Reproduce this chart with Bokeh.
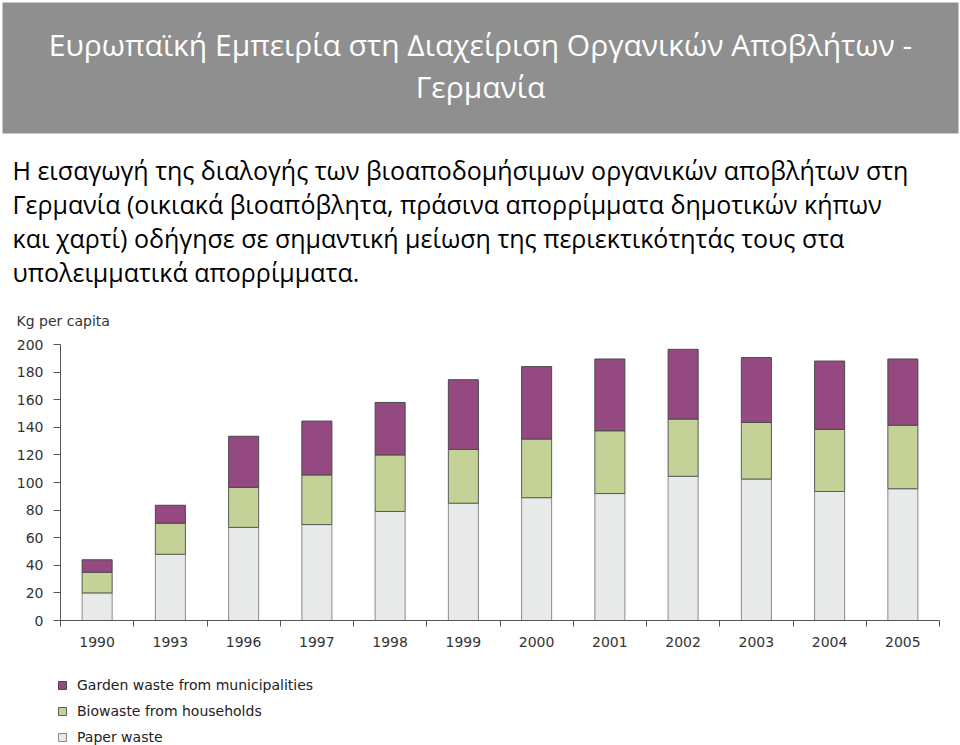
from bokeh.plotting import figure
from bokeh.models import ColumnDataSource, Range1d, FixedTicker, Legend, LegendItem, Label
from bokeh.embed import file_html
from bokeh.resources import INLINE

# ---- texts ----
title_lines = ["Ευρωπαϊκή Εμπειρία στη Διαχείριση Οργανικών Αποβλήτων -", "Γερμανία"]
text_lines = [
    "Η εισαγωγή της διαλογής των βιοαποδομήσιμων οργανικών αποβλήτων στη",
    "Γερμανία (οικιακά βιοαπόβλητα, πράσινα απορρίμματα δημοτικών κήπων",
    "και χαρτί) οδήγησε σε σημαντική μείωση της περιεκτικότητάς τους στα",
    "υπολειμματικά απορρίμματα.",
]
y_axis_title = "Kg per capita"

# ---- data ----
years = ["1990", "1993", "1996", "1997", "1998", "1999", "2000", "2001", "2002", "2003", "2004", "2005"]
paper = [20, 48, 67.5, 69.5, 79, 85, 89, 92, 104.5, 102.5, 93.5, 95.5]
bio = [15, 22.5, 29, 36, 41, 39, 42.5, 45.5, 41.5, 41, 45, 46]
garden = [9, 13, 37, 39, 38, 50.5, 52.5, 52, 50.5, 47, 49.5, 48]
series_names = ["Paper waste", "Biowaste from households", "Garden waste from municipalities"]
series_colors = ["#e8e9e9", "#c4d197", "#944a80"]
series_lines = ["#8a8a8a", "#5a5a5a", "#4a4a4a"]
y_ticks = [0, 20, 40, 60, 80, 100, 120, 140, 160, 180, 200]

W = 960
FONT = "DejaVu Sans"

# ---- banner ----
BH = 134
banner = figure(width=W, height=BH, x_range=Range1d(0, W - 4), y_range=Range1d(BH - 3, 0),
                output_backend="svg", toolbar_location=None,
                min_border_left=2, min_border_right=2, min_border_top=2, min_border_bottom=1,
                x_axis_location=None, y_axis_location=None,
                background_fill_color="#8f8f8f", border_fill_color="white",
                outline_line_color=None)
banner.grid.visible = False
for ty, t in zip([42, 84], title_lines):
    banner.add_layout(Label(x=(W - 4) / 2, y=ty, text=t, text_align="center", text_baseline="alphabetic",
                            text_color="white", text_font="Open Sans", text_font_size="30px"))

# ---- paragraph ----
PH = 160
para = figure(width=W, height=PH, x_range=Range1d(0, W), y_range=Range1d(PH, 0),
              output_backend="svg", toolbar_location=None, min_border=0,
              x_axis_location=None, y_axis_location=None, outline_line_color=None)
para.grid.visible = False
for ty, t in zip([35, 69, 103, 137], text_lines):
    para.add_layout(Label(x=12, y=ty, text=t, text_align="left", text_baseline="alphabetic",
                          text_color="black", text_font="Open Sans", text_font_size="25px"))

# ---- chart ----
CH = 660 - BH - PH
p = figure(width=W, height=CH, x_range=Range1d(0, len(years)), y_range=Range1d(0, 200),
           output_backend="svg", toolbar_location=None,
           min_border_left=60, min_border_right=21, min_border_top=50, min_border_bottom=40,
           outline_line_color=None)
p.grid.visible = False

src = ColumnDataSource(dict(x=[i + 0.5 for i in range(len(years))], paper=paper, bio=bio, garden=garden))
rs = p.vbar_stack(["paper", "bio", "garden"], x="x", width=0.41, source=src,
                  fill_color=series_colors, line_color=series_lines, line_width=1)

xa = p.xaxis[0]
xa.ticker = FixedTicker(ticks=[i + 0.5 for i in range(len(years))], minor_ticks=list(range(len(years) + 1)))
xa.major_label_overrides = {i + 0.5: y for i, y in enumerate(years)}
xa.major_tick_line_color = None
xa.major_tick_out = 6
xa.major_tick_in = 0
xa.minor_tick_out = 6
xa.minor_tick_in = 0
xa.minor_tick_line_color = "#555555"
xa.axis_line_color = "#555555"
xa.major_label_standoff = 10
xa.major_label_text_font = FONT
xa.major_label_text_font_size = "14px"
xa.major_label_text_color = "#333333"

ya = p.yaxis[0]
ya.ticker = FixedTicker(ticks=y_ticks)
ya.major_tick_out = 7
ya.major_tick_in = 0
ya.minor_tick_line_color = None
ya.major_tick_line_color = "#555555"
ya.axis_line_color = "#555555"
ya.major_label_standoff = 10
ya.major_label_text_font = FONT
ya.major_label_text_font_size = "14px"
ya.major_label_text_color = "#333333"

p.title.text = y_axis_title
p.title.align = "left"
p.title.offset = -44
p.title.text_font = FONT
p.title.text_font_style = "normal"
p.title.text_font_size = "14px"
p.title.text_color = "#333333"
p.title.standoff = 32

# ---- legend (separate strip below the chart; its proxy renderers are hidden) ----
LH = 745 - 660
lg = figure(width=W, height=LH, x_range=Range1d(0, 1), y_range=Range1d(0, 1),
            output_backend="svg", toolbar_location=None, min_border=0,
            x_axis_location=None, y_axis_location=None, outline_line_color=None)
lg.grid.visible = False
lsrc = ColumnDataSource(dict(x=[-50], paper=paper[:1], bio=bio[:1], garden=garden[:1]))
lrs = lg.vbar_stack(["paper", "bio", "garden"], x="x", width=0.41, source=lsrc,
                    fill_color=series_colors, line_color=series_lines, line_width=1)
for r in lrs:
    r.visible = False
legend = Legend(items=[LegendItem(label=series_names[2], renderers=[lrs[2]]),
                       LegendItem(label=series_names[1], renderers=[lrs[1]]),
                       LegendItem(label=series_names[0], renderers=[lrs[0]])],
                location=(57, 0), orientation="vertical", padding=0, margin=0,
                border_line_color=None, background_fill_alpha=0, inactive_fill_alpha=0,
                glyph_width=10, glyph_height=10, label_height=16, spacing=10,
                label_standoff=10, label_text_font=FONT, label_text_font_size="14px",
                label_text_color="#222222")
lg.add_layout(legend)

open("out.html", "w").write(file_html([banner, para, p, lg], INLINE))
